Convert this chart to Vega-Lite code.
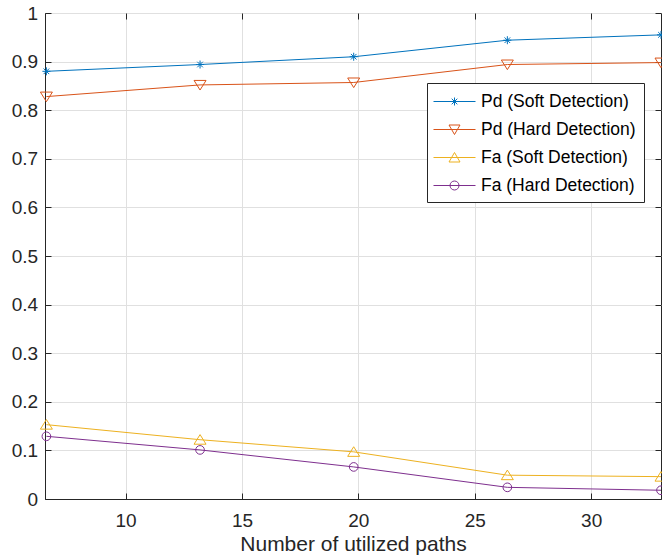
{
  "$schema": "https://vega.github.io/schema/vega-lite/v6.json",
  "width": 616,
  "height": 486,
  "autosize": {"type": "none"},
  "padding": {"left": 45, "top": 13, "right": 1, "bottom": 60},
  "background": "white",
  "data": {
    "values": [
      {"paths": 6.6, "value": 0.880, "series": "Pd (Soft Detection)"},
      {"paths": 13.2, "value": 0.894, "series": "Pd (Soft Detection)"},
      {"paths": 19.8, "value": 0.910, "series": "Pd (Soft Detection)"},
      {"paths": 26.4, "value": 0.944, "series": "Pd (Soft Detection)"},
      {"paths": 33, "value": 0.955, "series": "Pd (Soft Detection)"},
      {"paths": 6.6, "value": 0.828, "series": "Pd (Hard Detection)"},
      {"paths": 13.2, "value": 0.852, "series": "Pd (Hard Detection)"},
      {"paths": 19.8, "value": 0.857, "series": "Pd (Hard Detection)"},
      {"paths": 26.4, "value": 0.894, "series": "Pd (Hard Detection)"},
      {"paths": 33, "value": 0.898, "series": "Pd (Hard Detection)"},
      {"paths": 6.6, "value": 0.153, "series": "Fa (Soft Detection)"},
      {"paths": 13.2, "value": 0.122, "series": "Fa (Soft Detection)"},
      {"paths": 19.8, "value": 0.097, "series": "Fa (Soft Detection)"},
      {"paths": 26.4, "value": 0.049, "series": "Fa (Soft Detection)"},
      {"paths": 33, "value": 0.046, "series": "Fa (Soft Detection)"},
      {"paths": 6.6, "value": 0.129, "series": "Fa (Hard Detection)"},
      {"paths": 13.2, "value": 0.101, "series": "Fa (Hard Detection)"},
      {"paths": 19.8, "value": 0.066, "series": "Fa (Hard Detection)"},
      {"paths": 26.4, "value": 0.024, "series": "Fa (Hard Detection)"},
      {"paths": 33, "value": 0.018, "series": "Fa (Hard Detection)"}
    ]
  },
  "layer": [
    {
      "mark": {"type": "line", "strokeWidth": 1},
      "encoding": {
        "x": {"field": "paths", "type": "quantitative", "scale": {"domain": [6.54, 33], "nice": false, "zero": false},
              "axis": {"orient": "bottom", "values": [10, 15, 20, 25, 30], "tickSize": -6, "labelPadding": 18.6, "title": "Number of utilized paths", "titleY": 51, "titleBaseline": "alphabetic", "grid": true, "labelFlush": false}},
        "y": {"field": "value", "type": "quantitative", "scale": {"domain": [0, 1], "nice": false},
              "axis": {"orient": "left", "values": [0, 0.1, 0.2, 0.3, 0.4, 0.5, 0.6, 0.7, 0.8, 0.9, 1], "format": "~g", "tickSize": -6, "labelPadding": 13.3, "title": null, "grid": true, "labelFlush": false}},
        "color": {"field": "series", "type": "nominal", "title": null,
                  "scale": {"domain": ["Pd (Soft Detection)", "Pd (Hard Detection)", "Fa (Soft Detection)", "Fa (Hard Detection)"], "range": ["#0072BD", "#D95319", "#EDB120", "#7E2F8E"]}},
        "detail": {"field": "series"}
      }
    },
    {
      "transform": [{"filter": "datum.series === 'Pd (Soft Detection)'"}],
      "mark": {"type": "point", "filled": false, "strokeWidth": 1, "opacity": 1, "size": 64, "shape": "M-1,0L1,0M0,-1L0,1M-0.7,-0.7L0.7,0.7M-0.7,0.7L0.7,-0.7"},
      "encoding": {
        "x": {"field": "paths", "type": "quantitative", "axis": null},
        "y": {"field": "value", "type": "quantitative", "axis": null},
        "color": {"field": "series", "type": "nominal", "title": null}
      }
    },
    {
      "transform": [{"filter": "datum.series === 'Pd (Hard Detection)'"}],
      "mark": {"type": "point", "filled": false, "strokeWidth": 1, "opacity": 1, "size": 144, "shape": "M-1,-0.75L1,-0.75L0,0.85Z"},
      "encoding": {
        "x": {"field": "paths", "type": "quantitative", "axis": null},
        "y": {"field": "value", "type": "quantitative", "axis": null},
        "color": {"field": "series", "type": "nominal", "title": null}
      }
    },
    {
      "transform": [{"filter": "datum.series === 'Fa (Soft Detection)'"}],
      "mark": {"type": "point", "filled": false, "strokeWidth": 1, "opacity": 1, "size": 144, "shape": "M-1,0.75L1,0.75L0,-0.85Z"},
      "encoding": {
        "x": {"field": "paths", "type": "quantitative", "axis": null},
        "y": {"field": "value", "type": "quantitative", "axis": null},
        "color": {"field": "series", "type": "nominal", "title": null}
      }
    },
    {
      "transform": [{"filter": "datum.series === 'Fa (Hard Detection)'"}],
      "mark": {"type": "point", "filled": false, "strokeWidth": 1, "opacity": 1, "size": 75, "shape": "circle"},
      "encoding": {
        "x": {"field": "paths", "type": "quantitative", "axis": null},
        "y": {"field": "value", "type": "quantitative", "axis": null},
        "color": {"field": "series", "type": "nominal", "title": null}
      }
    },
    {
      "transform": [{"filter": "datum.paths < 0"}],
      "mark": {"type": "point", "filled": false, "strokeWidth": 1, "opacity": 1},
      "encoding": {
        "x": {"field": "paths", "type": "quantitative",
              "axis": {"orient": "top", "values": [10, 15, 20, 25, 30], "tickSize": -6, "labels": false, "domain": false, "grid": false, "title": null}},
        "y": {"field": "value", "type": "quantitative",
              "axis": {"orient": "right", "values": [0, 0.1, 0.2, 0.3, 0.4, 0.5, 0.6, 0.7, 0.8, 0.9, 1], "tickSize": -6, "labels": false, "domain": false, "grid": false, "title": null}},
        "color": {"field": "series", "type": "nominal", "title": null,
                  "legend": {"orient": "none", "legendX": 382, "legendY": 70}},
        "shape": {"field": "series", "type": "nominal", "title": null,
                  "scale": {"domain": ["Pd (Soft Detection)", "Pd (Hard Detection)", "Fa (Soft Detection)", "Fa (Hard Detection)"],
                            "range": [
                              "M-1.2,0L3,0M0.9,-0.4L0.9,0.4M0.62,-0.28L1.18,0.28M0.62,0.28L1.18,-0.28",
                              "M-1.2,0L3,0M0.35,-0.45L1.45,-0.45L0.9,0.5Z",
                              "M-1.2,0L3,0M0.35,0.45L1.45,0.45L0.9,-0.5Z",
                              "M-1.2,0L3,0M1.35,0C1.35,0.2485,1.1485,0.45,0.9,0.45C0.6515,0.45,0.45,0.2485,0.45,0C0.45,-0.2485,0.6515,-0.45,0.9,-0.45C1.1485,-0.45,1.35,-0.2485,1.35,0Z"
                            ]},
                  "legend": {"orient": "none", "legendX": 382, "legendY": 70}}
      }
    }
  ],
  "resolve": {"axis": {"x": "independent", "y": "independent"}},
  "config": {
    "font": "Liberation Sans",
    "view": {"stroke": "#262626", "strokeWidth": 1},
    "axis": {
      "domainColor": "#262626",
      "tickColor": "#262626",
      "labelColor": "#262626",
      "labelFont": "Liberation Sans",
      "labelFontSize": 19,
      "titleFont": "Liberation Sans",
      "titleFontSize": 21,
      "titleFontWeight": "normal",
      "titleColor": "#262626",
      "gridColor": "#e0e0e0",
      "gridWidth": 1,
      "labelOverlap": false
    },
    "legend": {
      "orient": "none",
      "legendX": 382,
      "legendY": 70,
      "padding": 8,
      "rowPadding": 9,
      "labelOffset": 25,
      "symbolSize": 400,
      "symbolStrokeWidth": 1,
      "labelFont": "Liberation Sans",
      "labelFontSize": 17.5,
      "labelColor": "#000000",
      "labelLimit": 400,
      "strokeColor": "#262626",
      "fillColor": "white"
    }
  }
}
